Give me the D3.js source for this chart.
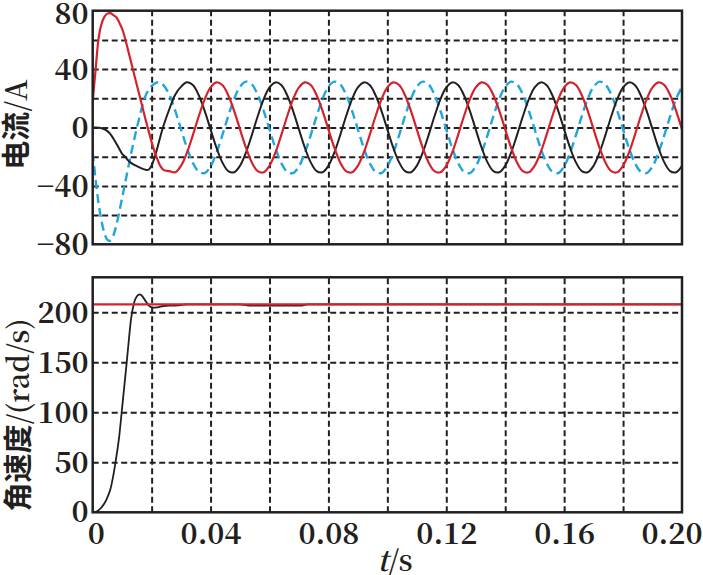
<!DOCTYPE html>
<html><head><meta charset="utf-8">
<script src="https://cdn.jsdelivr.net/npm/d3@7"></script>
<style>body{margin:0;background:#fff}svg{display:block}</style>
</head><body>
<script>
// ---- data (time in ms) ----
const tCurrentMs = [0,1,2,3,4,5,6,7,8,9,10,11,12,13,14,15,16,17,18,19,20,21,22,23,24,
 26,28,30,32,34,36,38,40,42,44,46,48,50,52,54,56,58,60,62,64,66,68,70,72,74,76,78,80,
 82,84,86,88,90,92,94,96,98,100,102,104,106,108,110,112,114,116,118,120,122,124,126,128,130,
 132,134,136,138,140,142,144,146,148,150,152,154,156,158,160,162,164,166,168,170,172,174,176,178,180,
 182,184,186,188,190,192,194,196,198,200];
const iBlack = [0,0,-0.2,-0.5,-1.2,-2.5,-4.5,-7.5,-11,-14.5,-18,-20,-22.5,-24.2,-25.5,-26.5,-27.5,-28.3,-29,-28.8,-26,-20.5,-13.5,-6,1,
 12.5,22.5,28,31,29.1,22.1,11.4,-1.3,-13.8,-23.9,-29.9,-30.7,-26.2,-17.2,-5.2,
 7.7,19.3,27.5,30.9,29.1,22.1,11.4,-1.3,-13.8,-23.9,-29.9,-30.7,-26.2,-17.2,-5.2,
 7.7,19.3,27.5,30.9,29.1,22.1,11.4,-1.3,-13.8,-23.9,-29.9,-30.7,-26.2,-17.2,-5.2,
 7.7,19.3,27.5,30.9,29.1,22.1,11.4,-1.3,-13.8,-23.9,-29.9,-30.7,-26.2,-17.2,-5.2,
 7.7,19.3,27.5,30.9,29.1,22.1,11.4,-1.3,-13.8,-23.9,-29.9,-30.7,-26.2,-17.2,-5.2,
 7.7,19.3,27.5,30.9,29.1,22.1,11.4,-1.3,-13.8,-23.9,-29.9,-30.7,-26.2];
const iRed = [18,40,61,71,76,78,78.3,77,75.5,72,67.5,61,53,45,37,29,21,13,5,-2.5,-10,-16.5,-22,-26.5,-29,
 -29.9,-30.7,-26.2,-17.2,-5.2,7.7,19.3,27.5,30.9,29.1,22.1,11.4,-1.3,-13.8,-23.9,
 -29.9,-30.7,-26.2,-17.2,-5.2,7.7,19.3,27.5,30.9,29.1,22.1,11.4,-1.3,-13.8,-23.9,
 -29.9,-30.7,-26.2,-17.2,-5.2,7.7,19.3,27.5,30.9,29.1,22.1,11.4,-1.3,-13.8,-23.9,
 -29.9,-30.7,-26.2,-17.2,-5.2,7.7,19.3,27.5,30.9,29.1,22.1,11.4,-1.3,-13.8,-23.9,
 -29.9,-30.7,-26.2,-17.2,-5.2,7.7,19.3,27.5,30.9,29.1,22.1,11.4,-1.3,-13.8,-23.9,
 -29.9,-30.7,-26.2,-17.2,-5.2,7.7,19.3,27.5,30.9,29.1,22.1,11.4,-1.3];
const iBlue = [-17,-36,-52,-64,-72.5,-77,-77.5,-74,-67,-58,-48,-38,-28,-18,-9,0,8,16,22,26,28.5,30,31,30.5,29,
 22.5,11.6,-1.3,-14.0,-24.3,-30.3,-31.2,-26.6,-17.4,-5.3,7.8,19.6,27.9,31.4,29.5,
 22.5,11.6,-1.3,-14.0,-24.3,-30.3,-31.2,-26.6,-17.4,-5.3,7.8,19.6,27.9,31.4,29.5,
 22.5,11.6,-1.3,-14.0,-24.3,-30.3,-31.2,-26.6,-17.4,-5.3,7.8,19.6,27.9,31.4,29.5,
 22.5,11.6,-1.3,-14.0,-24.3,-30.3,-31.2,-26.6,-17.4,-5.3,7.8,19.6,27.9,31.4,29.5,
 22.5,11.6,-1.3,-14.0,-24.3,-30.3,-31.2,-26.6,-17.4,-5.3,7.8,19.6,27.9,31.4,29.5,
 22.5,11.6,-1.3,-14.0,-24.3,-30.3,-31.2,-26.6,-17.4,-5.3,7.8,19.6,27.9];
const tSpeedMs = [0,1,2,3,4,5,6,7,8,9,10,11,12,13,14,15,16,17,18,19,20,21,22,24,26,28,30,32,50,53,71,73,200];
const wSpeed = [0,0.5,2.2,5,9,15,23,37,55,76,105,134,164,193,209,216,218,215.5,211,207,205,204.6,205,206.3,206.7,206.8,207.2,208,208,206.8,206.8,208,208];
const tRefMs = [0,200];
const wRef = [208,208];
const xTicks = [0,0.04,0.08,0.12,0.16,0.20];
const xGrid = [0.02,0.04,0.06,0.08,0.10,0.12,0.14,0.16,0.18];
const yTopTicks = [-80,-40,0,40,80];
const yTopGrid = [-60,-40,-20,0,20,40,60];
const yBotTicks = [0,50,100,150,200];
const yBotGrid = [50,100,150,200];

const W=703,H=575;
const svg=d3.select("body").append("svg").attr("width",W).attr("height",H);
const L=92.7,R=682;
const x=d3.scaleLinear().domain([0,0.2]).range([L,R]);
const yT=d3.scaleLinear().domain([-80,80]).range([244.3,10.7]);
const yB=d3.scaleLinear().domain([0,235]).range([512.3,277.3]);
const ink='#231f20';
const serifF='"Noto Serif CJK SC"';
function styleNum(sel){
  sel.style("font-family",serifF).style("font-size","29px").style("font-weight","700").attr("fill",ink);
}

function panel(y,gridY,ticksY,id){
  const [b,t]=y.range();
  const g=svg.append("g");
  const gx=g.append("g").attr("transform",`translate(0,${b})`)
    .call(d3.axisBottom(x).tickValues(xGrid).tickSize(-(b-t)).tickFormat(""));
  const gy=g.append("g").attr("transform",`translate(${L},0)`)
    .call(d3.axisLeft(y).tickValues(gridY).tickSize(-(R-L)).tickFormat(""));
  [gx,gy].forEach(a=>{a.select(".domain").remove();
    a.selectAll("line").attr("stroke",ink).attr("stroke-width",2).attr("stroke-dasharray","6,3.5");});
  const ya=g.append("g").attr("transform",`translate(${L-4},0)`)
    .call(d3.axisLeft(y).tickValues(ticksY).tickSize(0).tickPadding(0).tickFormat(d3.format("d")));
  ya.select(".domain").remove();
  ya.selectAll("text").call(styleNum).attr("dy","0.36em");
  svg.append("clipPath").attr("id",id).append("rect").attr("x",L).attr("y",t).attr("width",R-L).attr("height",b-t);
  return ya;
}
const yaT=panel(yT,yTopGrid,yTopTicks,"c1");
const yaB=panel(yB,yBotGrid,yBotTicks,"c2");
yaT.selectAll("text").filter(d=>d===80).attr("dy","0.45em");
yaB.selectAll("text").filter(d=>d===0).attr("dy","0.3em");

const xa=svg.append("g").attr("transform",`translate(0,512.3)`)
  .call(d3.axisBottom(x).tickValues(xTicks).tickSize(0).tickPadding(11)
  .tickFormat(d=>d===0?"0":d3.format(".2f")(d)));
xa.select(".domain").remove();
xa.selectAll("text").call(styleNum);
xa.selectAll("text").filter(d=>d===0).attr("dx","3");
xa.selectAll("text").filter(d=>d===0.2).attr("text-anchor","end").attr("dx","20");

function draw(ts,vs,y,clip,color,w,dash,curve){
  const data=ts.map((t,i)=>[t/1000,vs[i]]);
  svg.append("path").datum(data).attr("clip-path",`url(#${clip})`)
    .attr("fill","none").attr("stroke",color).attr("stroke-width",w)
    .attr("stroke-dasharray",dash||null).attr("stroke-linejoin","round")
    .attr("d",d3.line().x(d=>x(d[0])).y(d=>y(d[1])).curve(curve));
}
draw(tCurrentMs,iBlue,yT,"c1","#1fa6dc",2.4,"9,5",d3.curveCatmullRom.alpha(0.5));
draw(tCurrentMs,iBlack,yT,"c1",ink,2,null,d3.curveCatmullRom.alpha(0.5));
draw(tCurrentMs,iRed,yT,"c1","#d2232d",2.2,null,d3.curveCatmullRom.alpha(0.5));
draw(tSpeedMs,wSpeed,yB,"c2",ink,1.8,null,d3.curveMonotoneX);
draw(tRefMs,wRef,yB,"c2","#d2232d",2.2,null,d3.curveLinear);

[yT,yB].forEach(y=>{
  const [b,t]=y.range();
  svg.append("rect").attr("x",L).attr("y",t).attr("width",R-L).attr("height",b-t)
    .attr("fill","none").attr("stroke",ink).attr("stroke-width",2.5);
});

function title(tx,ty,cjk,latin){
  const t=svg.append("text").attr("transform",`translate(${tx},${ty}) rotate(-90)`)
    .attr("text-anchor","middle").attr("dy","0.36em").attr("fill",ink).style("font-size","29px");
  t.append("tspan").style("font-family",'"Noto Sans CJK SC"').style("font-weight","600").text(cjk);
  t.append("tspan").style("font-family",serifF).style("font-weight","600").text(latin);
}
title(17,124.5,"电流","/A");
title(19,415,"角速度","/(rad/s)");
const xt=svg.append("text").attr("x",395).attr("y",571).attr("text-anchor","middle")
  .style("font-family",serifF).style("font-size","29px").style("font-weight","600").attr("fill",ink);
xt.append("tspan").style("font-style","italic").text("t");
xt.append("tspan").text("/s");
</script>
</body></html>
